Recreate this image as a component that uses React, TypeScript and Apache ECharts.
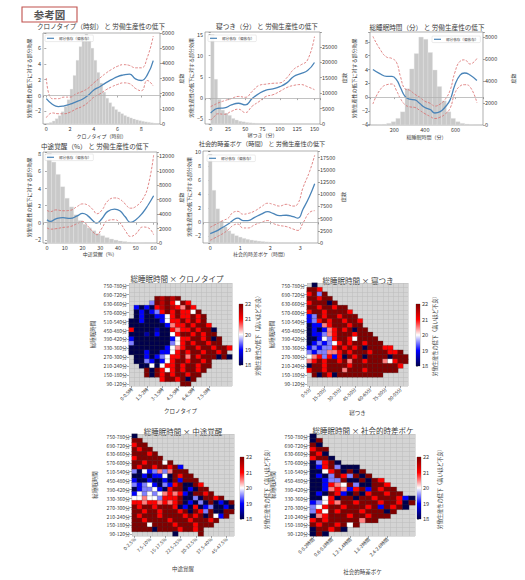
import React, { useEffect, useRef } from 'react';
import * as echarts from 'echarts';

const FONT = '"Noto Sans CJK JP", "Noto Sans", sans-serif';
const TEXT = '#3a3a3a';
const BLUE = '#4a84b8';
const RED = '#d96a6a';
const HIST_FILL = '#c9c9c9';
const SEISMIC = ['#00004c', '#0000ff', '#ffffff', '#ff0000', '#800000'];
const PD_NAME = '部分依存（偏依存）';
const EFFECT_NAME = '労働生産性の低下に対する部分効果';
const COUNT_NAME = '度数';
const CBAR_NAME = '労働生産性の低下（高いほど不良）';
const SLEEP_NAME = '総睡眠時間';

// ---------- 1. クロノタイプ ----------
const chronoX = [0, 0.5, 1, 1.5, 2, 2.5, 3, 3.5, 4, 4.5, 5, 5.5, 6, 6.5, 7, 7.5, 8, 8.5, 9];
const chronoPD = [-0.4, -1.1, -1.4, -1.3, -1.1, -0.8, -0.5, 0.0, 0.7, 1.1, 1.6, 2.0, 2.4, 2.6, 2.7, 2.1, 1.9, 2.6, 4.4];
const chronoUpper = [2.2, -0.4, -0.4, -0.2, -0.2, 0.2, 0.5, 0.9, 1.6, 2.2, 2.8, 3.3, 3.7, 3.9, 3.8, 3.5, 3.5, 4.8, 7.5];
const chronoLower = [-2.8, -2.2, -2.3, -2.3, -2.1, -1.7, -1.4, -0.9, -0.2, 0.2, 0.7, 1.1, 1.4, 1.6, 1.5, 0.9, 0.6, 1.9, 1.2];
const chronoHist = [50, 100, 200, 350, 550, 800, 1150, 1600, 2300, 3200, 4200, 5100, 5700, 5950, 5600, 5000, 4200, 3400, 2700, 2100, 1700, 1400, 1150, 950, 800, 680, 560, 470, 400, 330, 270, 220, 180, 140, 110, 80, 50];

// ---------- 2. 寝つき ----------
const latX = [0, 5, 10, 20, 30, 40, 50, 60, 70, 80, 90, 100, 110, 120, 130, 140, 150];
const latPD = [-3.5, -2.8, -2.4, -2.3, -1.6, -1.2, -1.6, -0.1, 1.1, 1.9, 2.2, 2.7, 3.6, 5.1, 5.8, 6.5, 8.4];
const latUpper = [-2.0, -1.6, -1.2, -0.6, -0.1, 0.4, 0.2, 1.6, 3.0, 3.3, 3.5, 3.6, 4.8, 6.8, 7.8, 9.0, 14.5];
const latLower = [-5.2, -4.4, -3.7, -3.8, -3.1, -2.6, -3.4, -1.9, -0.8, 0.4, 0.8, 1.6, 2.5, 3.0, 3.2, 2.7, 2.0];
const latHist = [29000, 14500, 8000, 4500, 3500, 2800, 1800, 1300, 900, 700, 500, 380, 280, 200, 150, 100, 80, 50];

// ---------- 3. 総睡眠時間 ----------
const tstX = [60, 105, 150, 185, 215, 240, 270, 300, 335, 365, 400, 435, 465, 500, 530, 565, 595, 630, 660, 695, 740];
const tstPD = [4.0, 3.4, 3.0, 3.0, 2.5, 1.4, 0.1, -0.3, -0.4, -0.9, -1.5, -1.8, -2.3, -2.1, -1.5, -0.4, 1.7, 3.2, 3.5, 3.2, 2.4];
const tstUpper = [8.8, 7.0, 5.8, 5.6, 5.0, 3.0, 1.2, 1.0, 0.4, 0.0, -0.6, -0.9, -1.3, -1.0, -0.4, 1.0, 3.5, 5.2, 5.4, 4.8, 5.6];
const tstLower = [-1.0, 1.0, 1.8, 1.9, 0.9, -0.2, -1.1, -1.4, -1.5, -1.9, -2.4, -2.8, -3.1, -2.9, -2.5, -1.6, 0.5, 1.6, 1.8, 1.5, -0.8];
const tstHist = [30, 60, 150, 300, 600, 1200, 3300, 5100, 6500, 8000, 7800, 6600, 5000, 3500, 2200, 1200, 600, 300, 150, 80, 40];

// ---------- 4. 中途覚醒 ----------
const wasoX = [0, 2, 5, 9, 13, 17, 20, 23, 26, 28, 31, 34, 38, 41, 44, 47, 50, 54, 57, 60];
const wasoPD = [0.35, 0.15, 0.45, 0.6, 0.5, 0.8, 1.1, 0.8, 0.2, -0.05, 0.5, 1.3, 1.6, 1.4, 0.7, 0.05, 0.35, 1.2, 2.1, 3.15];
const wasoUpper = [1.45, 1.3, 1.5, 1.4, 1.45, 1.9, 2.2, 2.05, 1.5, 1.05, 1.5, 2.5, 2.9, 2.75, 2.2, 1.7, 1.9, 2.8, 4.4, 7.9];
const wasoLower = [-0.6, -0.75, -0.7, -0.55, -0.45, -0.1, 0.15, -0.4, -1.1, -1.4, -0.6, 0.25, 0.35, 0.0, -0.9, -1.6, -1.3, -0.5, -0.6, -1.4];
const wasoHist = [12400, 11200, 9500, 7800, 6200, 5000, 3900, 3100, 2600, 2100, 1700, 1300, 1000, 750, 550, 400, 280, 200, 130, 80, 50, 30];

// ---------- 5. 社会的時差ボケ ----------
const sjlX = [0, 0.2, 0.42, 0.6, 0.76, 0.92, 1.09, 1.26, 1.48, 1.7, 1.92, 2.09, 2.31, 2.53, 2.76, 2.92, 3.09, 3.31, 3.48];
const sjlPD = [-1.6, -1.25, -0.7, -0.25, 0.3, 0.6, 0.25, 0.25, 0.7, 1.15, 1.5, 1.25, 0.95, 1.0, 0.8, 0.6, 1.85, 3.7, 5.45];
const sjlUpper = [-0.7, -0.25, 0.25, 0.6, 1.4, 1.55, 1.15, 1.25, 1.6, 2.2, 2.7, 2.55, 2.3, 2.55, 2.3, 2.65, 4.9, 7.2, 9.5];
const sjlLower = [-2.55, -2.1, -1.6, -1.05, -0.45, -0.25, -0.8, -0.8, -0.35, 0.0, 0.25, -0.15, -0.45, -0.6, -0.95, -1.15, -0.1, 1.4, 1.65];
const sjlHist = [18200, 10800, 7000, 4500, 3300, 2500, 1900, 1500, 1200, 950, 750, 600, 480, 380, 300, 230, 180, 130, 100, 70, 50, 35, 25, 15];

// ---------- heatmap labels ----------
const sleepRows = ['90-120分', '120-150分', '150-180分', '180-210分', '210-240分', '240-270分', '270-300分', '300-330分', '330-360分', '360-390分', '390-420分', '420-450分', '450-480分', '480-510分', '510-540分', '540-570分', '570-600分', '600-630分', '630-660分', '660-690分', '690-720分', '720-750分', '750-780分'];
const chronoCols = ['0-0.5時', '0.5-1時', '1-1.5時', '1.5-2時', '2-2.5時', '2.5-3時', '3-3.5時', '3.5-4時', '4-4.5時', '4.5-5時', '5-5.5時', '5.5-6時', '6-6.5時', '6.5-7時', '7-7.5時', '7.5-8時', '8-8.5時', '8.5-9時', '9-9.5時', '9.5-10時'];
const latencyCols = ['0-5分', '5-10分', '10-15分', '15-20分', '20-25分', '25-30分', '30-35分', '35-40分', '40-45分', '45-50分', '50-55分', '55-60分', '60-65分', '65-70分', '70-75分', '75-80分', '80-85分', '85-90分', '90-95分', '95-100分'];
const wasoCols = ['0-2.5%', '2.5-5%', '5-7.5%', '7.5-10%', '10-12.5%', '12.5-15%', '15-17.5%', '17.5-20%', '20-22.5%', '22.5-25%', '25-27.5%', '27.5-30%', '30-32.5%', '32.5-35%', '35-37.5%', '37.5-40%', '40-42.5%', '42.5-45%', '45-47.5%', '47.5-50%'];
const sjlCols = ['0-0.2時間', '0.2-0.4時間', '0.4-0.6時間', '0.6-0.8時間', '0.8-1時間', '1-1.2時間', '1.2-1.4時間', '1.4-1.6時間', '1.6-1.8時間', '1.8-2時間', '2-2.2時間', '2.2-2.4時間', '2.4-2.6時間', '2.6-2.8時間', '2.8-3時間', '3-3.2時間', '3.2-3.4時間'];

// heatmap cells, top row (750-780分) first; '.' = no data, digit d = 18 + d*0.5
const chronoCells = [
  '....................',
  '....................',
  '....................',
  '.....87878..........',
  '....38786486........',
  '.202067876586.......',
  '.0202368686648......',
  '.02002246866868.....',
  '002000246686868.....',
  '0000000256686886....',
  '60000100656686880...',
  '00010200468868688...',
  '200000002466886808..',
  '300000003468688688..',
  '00000002456886886886',
  '0002002246868868868.',
  '.0020234668586888080',
  '.003202468868868....',
  '..00404668688688....',
  '...808646868868.....',
  '...80868688688......',
  '......6886808.......',
  '..........88........',
];
const latencyCells = [
  '.0..................',
  '886.................',
  '6838................',
  '88688...............',
  '688808..............',
  '88688688............',
  '688688886...........',
  '2386886888..........',
  '23686886886.........',
  '02256888688.........',
  '020256868088........',
  '0223568886888.......',
  '00243688648888......',
  '023234686886888.....',
  '23233686868088866...',
  '3233556868886888668.',
  '45636260868088880888',
  '56868868588688854688',
  '0886888868888888886.',
  '688688858886888888..',
  '.80860888888888.....',
  '....................',
  '....................',
];
const wasoCells = [
  '0...................',
  '88..................',
  '688.................',
  '8688................',
  '88868...............',
  '688888..............',
  '88688848............',
  '8688688682..........',
  '30423535888.........',
  '002022408688........',
  '2002002082888.......',
  '32342032680086......',
  '023342068802088.....',
  '2434345656208868....',
  '445443666800308868..',
  '66566565680203080208',
  '86886888602060230020',
  '88688688868086380088',
  '8688868888686808428.',
  '88688886888688868...',
  '8884888868886888....',
  '88880888868868......',
  '........0....8......',
];
const sjlCells = [
  '0................',
  '08...............',
  '80...............',
  '688..............',
  '860..............',
  '6880.............',
  '03680............',
  '02683000.........',
  '004680808........',
  '0203863808.......',
  '002338008086.....',
  '0026548300886....',
  '00256526828688...',
  '020862080688688..',
  '00460880886888620',
  '23465886888688608',
  '3468868886828680.',
  '36486888688808...',
  '0568886886888....',
  '68688888588......',
  '86886848.........',
  '088680...........',
  '080..............',
];

type LineCfg = {
  title: string; tx: number; ty: number; tSize: number;
  grid: number[];
  xMin: number; xMax: number; xStep: number; xName: string; xGap: number;
  yMin: number; yMax: number; yStep: number; yGap: number;
  hMax: number; hStep: number; hGap: number;
  legend: number[];
  x: number[]; pd: number[]; up: number[]; lo: number[];
  hStart: number; hWidth: number; hist: number[];
};

const lineCharts: LineCfg[] = [
  { title: 'クロノタイプ（時刻） と 労働生産性の低下', tx: 101, ty: 26, tSize: 6.6, grid: [43, 33, 117, 91],
    xMin: -0.28, xMax: 9.57, xStep: 2, xName: 'クロノタイプ（時刻）', xGap: 9,
    yMin: -3.6, yMax: 7.9, yStep: 2, yGap: 11, hMax: 6000, hStep: 1000, hGap: 12.5, legend: [45, 35],
    x: chronoX, pd: chronoPD, up: chronoUpper, lo: chronoLower, hStart: 0, hWidth: 0.25, hist: chronoHist },
  { title: '寝つき（分） と 労働生産性の低下', tx: 267, ty: 26, tSize: 6.6, grid: [205, 32, 115, 92],
    xMin: -8.2, xMax: 158, xStep: 25, xName: '寝つき（分）', xGap: 7,
    yMin: -6.1, yMax: 15.6, yStep: 5, yGap: 9.5, hMax: 29800, hStep: 5000, hGap: 20.5, legend: [208, 35],
    x: latX, pd: latPD, up: latUpper, lo: latLower, hStart: 0, hWidth: 5, hist: latHist },
  { title: '総睡眠時間（分） と 労働生産性の低下', tx: 427, ty: 27, tSize: 6.6, grid: [370, 32, 113, 93],
    xMin: 41, xMax: 780, xStep: 200, xName: '総睡眠時間（分）', xGap: 8.5,
    yMin: -4.04, yMax: 9.44, yStep: 2, yGap: 14.5, hMax: 8460, hStep: 2000, hGap: 27, legend: [432, 36],
    x: tstX, pd: tstPD, up: tstUpper, lo: tstLower, hStart: 90, hWidth: 30, hist: tstHist },
  { title: '中途覚醒（%） と 労働生産性の低下', tx: 95, ty: 146, tSize: 6.6, grid: [43, 152, 114, 91],
    xMin: -2.25, xMax: 61.9, xStep: 10, xName: '中途覚醒（%）', xGap: 7.5,
    yMin: -2.37, yMax: 8.27, yStep: 2, yGap: 12.5, hMax: 12600, hStep: 2000, hGap: 20.5, legend: [45, 154],
    x: wasoX, pd: wasoPD, up: wasoUpper, lo: wasoLower, hStart: 0, hWidth: 2.5, hist: wasoHist },
  { title: '社会的時差ボケ（時間） と 労働生産性の低下', tx: 262, ty: 143.2, tSize: 6.2, grid: [203, 151, 115, 92],
    xMin: -0.24, xMax: 3.59, xStep: 1, xName: '社会的時差ボケ（時間）', xGap: 7.5,
    yMin: -2.93, yMax: 10.1, yStep: 2, yGap: 7.5, hMax: 18850, hStep: 2500, hGap: 21.5, legend: [207, 155],
    x: sjlX, pd: sjlPD, up: sjlUpper, lo: sjlLower, hStart: -0.0625, hWidth: 0.125, hist: sjlHist },
];

type HeatCfg = {
  title: string; tx: number; ty: number; grid: number[]; cols: string[]; cells: string[];
  labelMax: number; xName: string; xGap: number; yGap: number; cbar: number[]; cbGap: number;
};

const heatmaps: HeatCfg[] = [
  { title: '総睡眠時間 × クロノタイプ', tx: 177, ty: 278, grid: [129, 283, 103, 103], cols: chronoCols, cells: chronoCells,
    labelMax: 15, xName: 'クロノタイプ', xGap: 22, yGap: 33, cbar: [239, 304, 4, 61], cbGap: 11 },
  { title: '総睡眠時間 × 寝つき', tx: 358, ty: 280, grid: [307, 283, 101, 103], cols: latencyCols, cells: latencyCells,
    labelMax: 18, xName: '寝つき', xGap: 24, yGap: 32, cbar: [416, 304, 4, 62], cbGap: 10 },
  { title: '総睡眠時間 × 中途覚醒', tx: 183, ty: 431, grid: [132, 434, 102, 102], cols: wasoCols, cells: wasoCells,
    labelMax: 18, xName: '中途覚醒', xGap: 30, yGap: 34, cbar: [240, 457, 4, 62], cbGap: 20 },
  { title: '総睡眠時間 × 社会的時差ボケ', tx: 363, ty: 430, grid: [310, 434, 105, 102], cols: sjlCols, cells: sjlCells,
    labelMax: 12, xName: '社会的時差ボケ', xGap: 33, yGap: 34, cbar: [417, 457, 4, 62], cbGap: 16 },
];

const stepFormatter = (step: number) => (v: number) => {
  const k = v / step;
  if (Math.abs(k - Math.round(k)) > 1e-6) return '';
  const r = Math.round(k) * step;
  return r < 0 ? '−' + Math.abs(r) : String(r);
};

const zip = (a: number[], b: number[]) => a.map((v, i) => [v, b[i]]);

function heatData(cells: string[]) {
  const out: number[][] = [];
  const n = cells.length;
  cells.forEach((row, i) => {
    const y = n - 1 - i;
    for (let x = 0; x < row.length; x++) {
      const ch = row[x];
      if (ch >= '0' && ch <= '8') out.push([x, y, 18 + Number(ch) * 0.5]);
    }
  });
  return out;
}

function textEl(text: string, x: number, y: number, fontSize: number, extra: any = {}) {
  return {
    type: 'text', x, y, silent: true,
    style: {
      text, fontSize, fontFamily: FONT, fill: TEXT,
      align: 'center', verticalAlign: 'middle', textAlign: 'center', textVerticalAlign: 'middle', ...extra,
    },
  };
}

function gridBox(r: number[], extra: any) {
  return { left: r[0], top: r[1], width: r[2], height: r[3], containLabel: false, outerBoundsMode: 'none', ...extra };
}

function buildOption() {
  const grid: any[] = [], xAxis: any[] = [], yAxis: any[] = [], series: any[] = [], legend: any[] = [], graphic: any[] = [];
  const heatIdx: number[] = [];
  const labelBase = { fontSize: 5.5, color: TEXT, fontFamily: FONT, margin: 2 };
  const tickBase = { show: true, length: 2, lineStyle: { color: '#555', width: 0.5 } };
  const nameStyle = { fontSize: 5, color: TEXT, fontFamily: FONT };

  const histRender = (_p: any, api: any) => {
    const a = api.coord([api.value(0), api.value(2)]);
    const b = api.coord([api.value(1), 0]);
    return {
      type: 'rect',
      shape: { x: a[0], y: a[1], width: b[0] - a[0], height: b[1] - a[1] },
      style: { fill: HIST_FILL, stroke: '#e6e6e6', lineWidth: 0.3 },
    };
  };

  lineCharts.forEach((c) => {
    const gi = grid.length;
    grid.push(gridBox(c.grid, { show: true, borderColor: '#7a7a7a', borderWidth: 0.6, backgroundColor: '#fff' }));
    const xi = xAxis.length;
    xAxis.push({
      type: 'value', gridIndex: gi, min: c.xMin, max: c.xMax, minInterval: c.xStep, maxInterval: c.xStep,
      axisLine: { show: false }, axisTick: tickBase, splitLine: { show: false },
      axisLabel: { ...labelBase, formatter: stepFormatter(c.xStep) },
      name: c.xName, nameLocation: 'middle', nameGap: c.xGap, nameTextStyle: nameStyle,
    });
    const yi = yAxis.length;
    yAxis.push({
      type: 'value', gridIndex: gi, position: 'left', min: c.yMin, max: c.yMax, minInterval: c.yStep, maxInterval: c.yStep,
      axisLine: { show: false }, axisTick: tickBase, splitLine: { show: false },
      axisLabel: { ...labelBase, formatter: stepFormatter(c.yStep) },
      name: EFFECT_NAME, nameLocation: 'middle', nameRotate: 90, nameGap: c.yGap, nameTextStyle: nameStyle,
    });
    yAxis.push({
      type: 'value', gridIndex: gi, position: 'right', min: 0, max: c.hMax, minInterval: c.hStep, maxInterval: c.hStep,
      axisLine: { show: false }, axisTick: tickBase, splitLine: { show: false },
      axisLabel: { ...labelBase, formatter: stepFormatter(c.hStep) },
      name: COUNT_NAME, nameLocation: 'middle', nameRotate: 90, nameGap: c.hGap, nameTextStyle: nameStyle,
    });
    const bins = c.hist.map((v, i) => [c.hStart + i * c.hWidth, c.hStart + (i + 1) * c.hWidth, v]);
    series.push({
      type: 'custom', name: COUNT_NAME, xAxisIndex: xi, yAxisIndex: yi + 1, data: bins,
      encode: { x: [0, 1], y: 2 }, renderItem: histRender, z: 1, silent: true, clip: true,
    });
    series.push({
      type: 'line', name: '上限', xAxisIndex: xi, yAxisIndex: yi, data: zip(c.x, c.up), smooth: 0.5,
      showSymbol: false, lineStyle: { color: RED, width: 0.8, type: [2.5, 1.5] }, z: 3, silent: true,
    });
    series.push({
      type: 'line', name: '下限', xAxisIndex: xi, yAxisIndex: yi, data: zip(c.x, c.lo), smooth: 0.5,
      showSymbol: false, lineStyle: { color: RED, width: 0.8, type: [2.5, 1.5] }, z: 3, silent: true,
    });
    series.push({
      type: 'line', name: PD_NAME, color: BLUE, xAxisIndex: xi, yAxisIndex: yi, data: zip(c.x, c.pd), smooth: 0.5,
      showSymbol: false, lineStyle: { color: BLUE, width: 1.3 }, z: 4, silent: true,
      markLine: {
        silent: true, symbol: 'none', label: { show: false },
        lineStyle: { color: '#b3b3b3', width: 0.8, type: 'solid' }, data: [{ yAxis: 0 }],
      },
    });
    legend.push({
      data: [PD_NAME], left: c.legend[0], top: c.legend[1], selectedMode: false,
      icon: 'rect', itemWidth: 7, itemHeight: 1.2, itemGap: 2, padding: [1.5, 2],
      backgroundColor: 'rgba(255,255,255,0.9)', borderColor: '#cfcfcf', borderWidth: 0.4, borderRadius: 1,
      textStyle: { fontSize: 3.6, color: TEXT, fontFamily: FONT, padding: [0, 0, 0, 0] },
    });
    graphic.push(textEl(c.title, c.tx, c.ty, c.tSize));
  });

  heatmaps.forEach((h) => {
    const gi = grid.length;
    grid.push(gridBox(h.grid, { show: true, backgroundColor: '#d4d4d4', borderWidth: 0 }));
    const labelFn = (i: number) => i % 3 === 0 && i <= h.labelMax;
    const xi = xAxis.length;
    xAxis.push({
      type: 'category', gridIndex: gi, data: h.cols,
      axisLine: { show: false },
      axisTick: { show: true, length: 2, alignWithLabel: true, interval: labelFn, lineStyle: { color: '#555', width: 0.5 } },
      axisLabel: { rotate: 45, fontSize: 4.8, margin: 2, color: TEXT, fontFamily: FONT, interval: labelFn },
      splitLine: { show: true, interval: 0, lineStyle: { color: '#bdbdbd', width: 0.5 } },
      name: h.xName, nameLocation: 'middle', nameGap: h.xGap, nameTextStyle: { ...nameStyle, fontSize: 5.5 },
    });
    const yi = yAxis.length;
    yAxis.push({
      type: 'category', gridIndex: gi, data: sleepRows,
      axisLine: { show: false },
      axisTick: { show: true, length: 2, alignWithLabel: true, interval: 1, lineStyle: { color: '#555', width: 0.5 } },
      axisLabel: { fontSize: 5, margin: 2, color: TEXT, fontFamily: FONT, interval: 1 },
      splitLine: { show: true, interval: 0, lineStyle: { color: '#bdbdbd', width: 0.5 } },
      name: SLEEP_NAME, nameLocation: 'middle', nameRotate: 90, nameGap: h.yGap, nameTextStyle: { ...nameStyle, fontSize: 5.5 },
    });
    heatIdx.push(series.length);
    series.push({
      type: 'heatmap', xAxisIndex: xi, yAxisIndex: yi, data: heatData(h.cells),
      itemStyle: { borderColor: 'rgba(60,60,60,0.55)', borderWidth: 0.4 }, emphasis: { disabled: true }, silent: true,
    });
    graphic.push(textEl(h.title, h.tx, h.ty, 7.5));

    // colour bar
    const cg = grid.length;
    grid.push(gridBox(h.cbar, { show: true, borderColor: '#555', borderWidth: 0.4 }));
    const cx = xAxis.length;
    xAxis.push({ type: 'value', gridIndex: cg, min: 0, max: 1, show: false });
    const cy = yAxis.length;
    yAxis.push({
      type: 'value', gridIndex: cg, position: 'right', min: 18, max: 22, interval: 1,
      axisLine: { show: false }, splitLine: { show: false },
      axisTick: { show: true, length: 2, lineStyle: { color: '#555', width: 0.5 } },
      axisLabel: { fontSize: 5.6, margin: 2, color: TEXT, fontFamily: FONT },
      name: CBAR_NAME, nameLocation: 'middle', nameRotate: 90, nameGap: h.cbGap, nameTextStyle: { ...nameStyle, fontSize: 5.2 },
    });
    series.push({
      type: 'custom', xAxisIndex: cx, yAxisIndex: cy, data: [[0, 18]], silent: true,
      renderItem: (_p: any, api: any) => {
        const a = api.coord([0, 22]);
        const b = api.coord([1, 18]);
        return {
          type: 'rect',
          shape: { x: a[0], y: a[1], width: b[0] - a[0], height: b[1] - a[1] },
          style: {
            fill: new echarts.graphic.LinearGradient(0, 0, 0, 1, [
              { offset: 0, color: SEISMIC[4] }, { offset: 0.25, color: SEISMIC[3] },
              { offset: 0.5, color: SEISMIC[2] }, { offset: 0.75, color: SEISMIC[1] },
              { offset: 1, color: SEISMIC[0] },
            ]),
          },
        };
      },
    });
  });

  // 参考図 label box
  graphic.push({
    type: 'rect', shape: { x: 22, y: 7, width: 55, height: 15 }, silent: true,
    style: { fill: '#fff', stroke: '#c0504d', lineWidth: 1.1 },
  });
  graphic.push(textEl('参考図', 49.5, 14.8, 10.5, { fontWeight: 'bold', fill: '#555' }));

  return {
    animation: false,
    backgroundColor: '#fff',
    textStyle: { fontFamily: FONT },
    grid, xAxis, yAxis, series, legend, graphic,
    visualMap: [{
      type: 'continuous', show: false, min: 18, max: 22, dimension: 2, seriesIndex: heatIdx,
      inRange: { color: SEISMIC },
    }],
  };
}

export default function App() {
  const ref = useRef<HTMLDivElement>(null);
  useEffect(() => {
    const chart = echarts.init(ref.current!, undefined, { renderer: 'svg' });
    chart.setOption(buildOption() as any);
    return () => chart.dispose();
  }, []);
  return <div ref={ref} style={{ position: 'absolute', left: 0, top: 0, width: 525, height: 580, background: '#fff' }} />;
}
